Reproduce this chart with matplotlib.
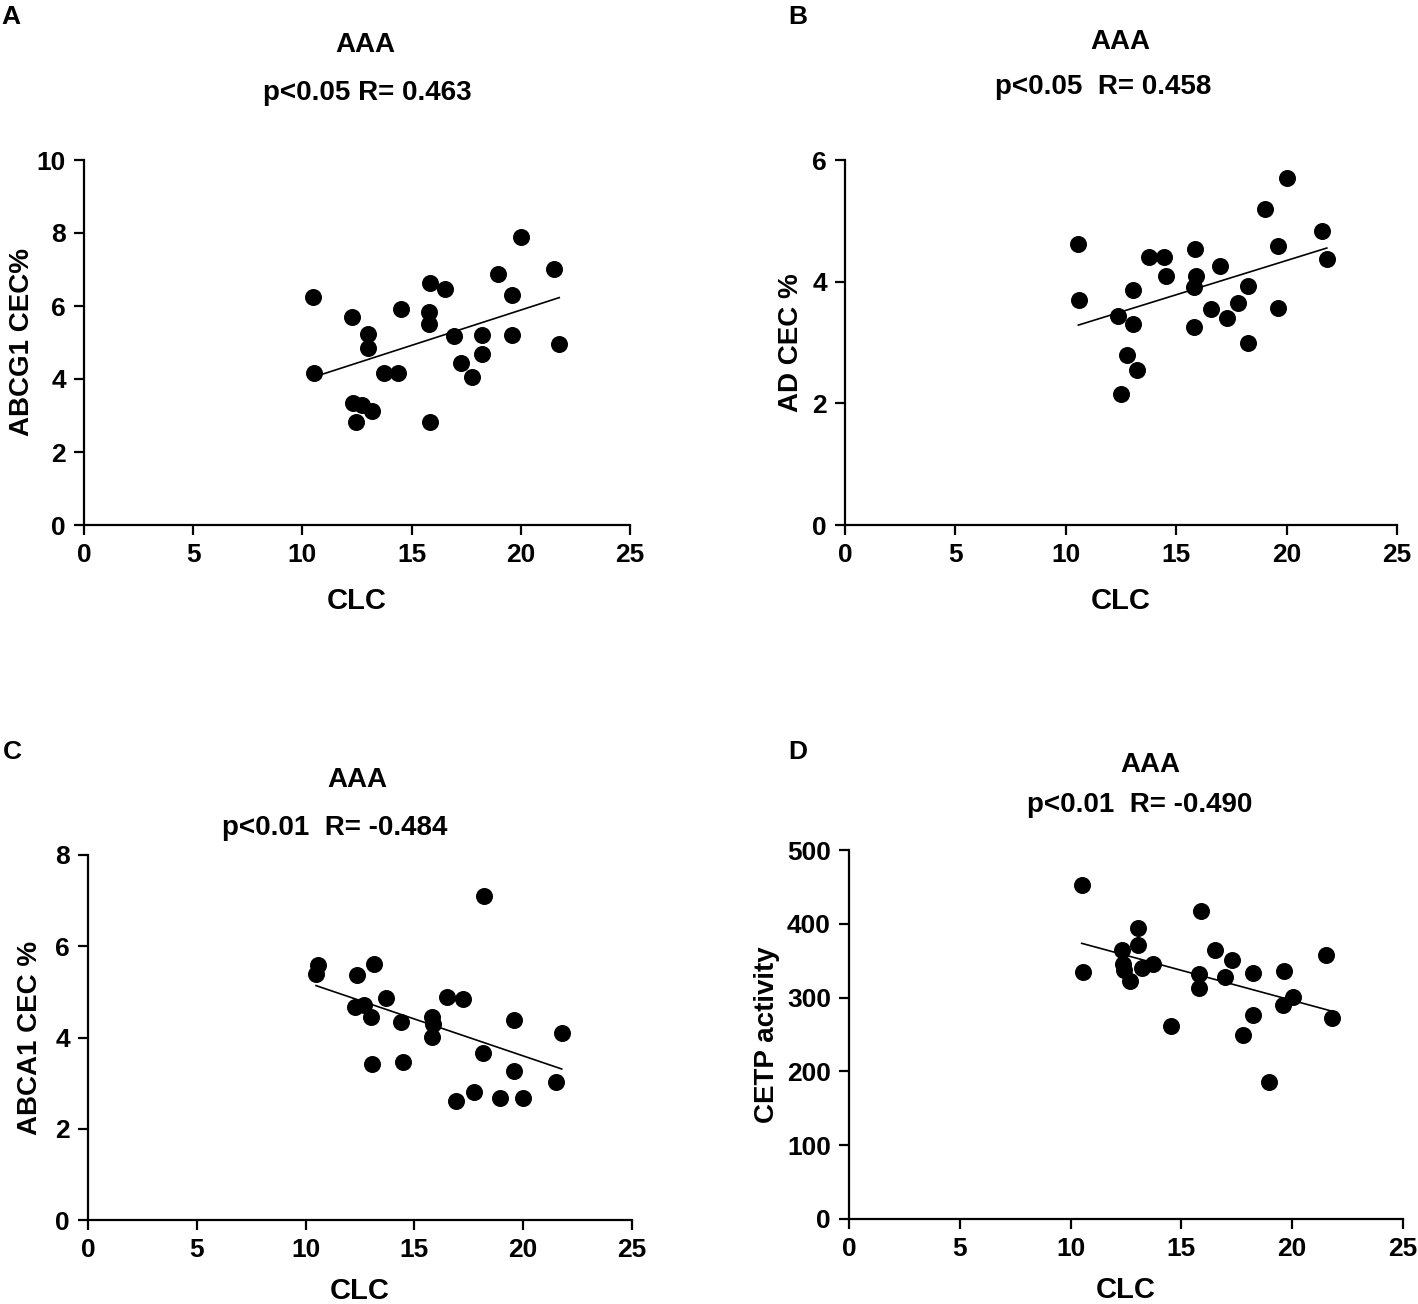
import matplotlib
matplotlib.use("Agg")
import matplotlib.pyplot as plt
import numpy as np

plt.rcParams["font.family"] = ["Liberation Sans", "DejaVu Sans"]
plt.rcParams["font.weight"] = "bold"

W, H = 1418, 1304

# Panel A - ABCG1 CEC%
clc_a = [10.5, 10.53, 12.26, 13.02, 13.02, 12.33, 12.71, 13.17, 12.44, 13.74,
         14.36, 14.51, 15.84, 16.53, 15.81, 15.81, 15.84, 16.94, 17.26, 17.75,
         18.24, 18.21, 18.97, 19.58, 19.61, 19.99, 21.52, 21.76]
abcg1 = [6.25, 4.17, 5.71, 5.23, 4.86, 3.33, 3.29, 3.13, 2.83, 4.16,
         4.16, 5.91, 6.64, 6.47, 5.84, 5.51, 2.83, 5.18, 4.43, 4.06,
         5.21, 4.68, 6.87, 6.30, 5.21, 7.88, 7.01, 4.96]

# Panel B - AD CEC %
clc_b = [10.57, 10.62, 12.38, 13.06, 13.06, 12.76, 13.21, 12.49, 13.75, 14.45,
         14.54, 15.85, 15.90, 15.82, 15.81, 16.98, 16.58, 17.32, 17.82, 18.27,
         18.24, 19.02, 19.62, 19.62, 20.03, 21.59, 21.82]
ad_cec = [4.62, 3.70, 3.44, 3.87, 3.30, 2.79, 2.54, 2.16, 4.40, 4.40,
          4.10, 4.53, 4.09, 3.91, 3.25, 4.25, 3.55, 3.40, 3.65, 3.93,
          2.99, 5.19, 4.59, 3.57, 5.71, 4.83, 4.38]

# Panel C - ABCA1 CEC %
clc_c = [10.55, 10.48, 12.38, 13.16, 12.27, 12.68, 12.99, 13.69, 13.04, 14.37,
         14.49, 15.79, 15.84, 15.79, 16.51, 17.24, 18.21, 18.17, 16.91, 17.74,
         18.93, 19.98, 19.59, 19.59, 21.77, 21.49]
abca1 = [5.59, 5.39, 5.36, 5.61, 4.67, 4.71, 4.46, 4.86, 3.43, 4.35,
         3.47, 4.46, 4.30, 4.02, 4.89, 4.84, 7.10, 3.67, 2.61, 2.80,
         2.68, 2.68, 4.38, 3.27, 4.09, 3.03]

# Panel D - CETP activity
clc_d = [10.50, 10.57, 12.31, 13.06, 13.06, 12.38, 12.41, 12.68, 13.21, 13.73,
         14.53, 15.87, 15.81, 15.81, 16.52, 17.27, 16.97, 18.22, 18.22, 17.77,
         18.95, 19.63, 19.57, 20.02, 21.51, 21.78]
cetp = [453, 335, 365, 394, 371, 346, 337, 322, 340, 346,
        261, 417, 332, 313, 364, 351, 328, 334, 277, 249,
        185, 336, 290, 301, 358, 273]

panels = [
    ("A", clc_a, abcg1, "ABCG1 CEC%", [0, 2, 4, 6, 8, 10], "p<0.05 R= 0.463"),
    ("B", clc_b, ad_cec, "AD CEC %", [0, 2, 4, 6], "p<0.05  R= 0.458"),
    ("C", clc_c, abca1, "ABCA1 CEC %", [0, 2, 4, 6, 8], "p<0.01  R= -0.484"),
    ("D", clc_d, cetp, "CETP activity", [0, 100, 200, 300, 400, 500], "p<0.01  R= -0.490"),
]

# axes boxes in pixels: left, right, top, bottom
boxes = [(84, 630, 160, 525), (845, 1397, 160, 525),
         (88, 632, 855, 1220), (849, 1403, 850, 1219)]
letter_pos = [(1, 17), (788, 17), (3, 752), (788, 752)]
title_pos = [(365, 45, 93), (1120, 42, 87), (357, 780, 828), (1150, 765, 805)]
stat_x = [367, 1103, 335, 1140]
ylabel_pad = [1, 6, 9, 5]
xlabel_pad = [14, 14, 11, 11]

fig = plt.figure(figsize=(W / 100, H / 100), dpi=100)

for i, (letter, xs, ys, ylab, yticks, stat) in enumerate(panels):
    l, r, t, b = boxes[i]
    ax = fig.add_axes([l / W, 1 - b / H, (r - l) / W, (b - t) / H])
    ax.scatter(xs, ys, s=150, color="black", zorder=3, clip_on=False, linewidths=0)
    k, c = np.polyfit(xs, ys, 1)
    lx = np.array([min(xs), max(xs)])
    ax.plot(lx, k * lx + c, color="black", lw=1.2, zorder=2)

    ax.set_xlim(0, 25)
    ax.set_ylim(0, yticks[-1])
    ax.set_xticks([0, 5, 10, 15, 20, 25])
    ax.set_yticks(yticks)
    for s in ["top", "right"]:
        ax.spines[s].set_visible(False)
    for s in ["left", "bottom"]:
        ax.spines[s].set_linewidth(1.6)
    ax.tick_params(direction="out", length=7, width=1.6, labelsize=19, pad=6)
    for lab in ax.get_xticklabels() + ax.get_yticklabels():
        lab.set_fontweight("bold")
    ax.set_xlabel("CLC", fontsize=21, fontweight="bold", labelpad=xlabel_pad[i])
    ax.set_ylabel(ylab, fontsize=20, fontweight="bold", labelpad=ylabel_pad[i])

    lx_, ly_ = letter_pos[i]
    fig.text(lx_ / W, 1 - ly_ / H, letter, fontsize=19, fontweight="bold", va="center")
    tx, ty1, ty2 = title_pos[i]
    fig.text(tx / W, 1 - ty1 / H, "AAA", fontsize=20, fontweight="bold",
             ha="center", va="center")
    fig.text(stat_x[i] / W, 1 - ty2 / H, stat, fontsize=20, fontweight="bold",
             ha="center", va="center")

fig.savefig("out.png", dpi=100)
